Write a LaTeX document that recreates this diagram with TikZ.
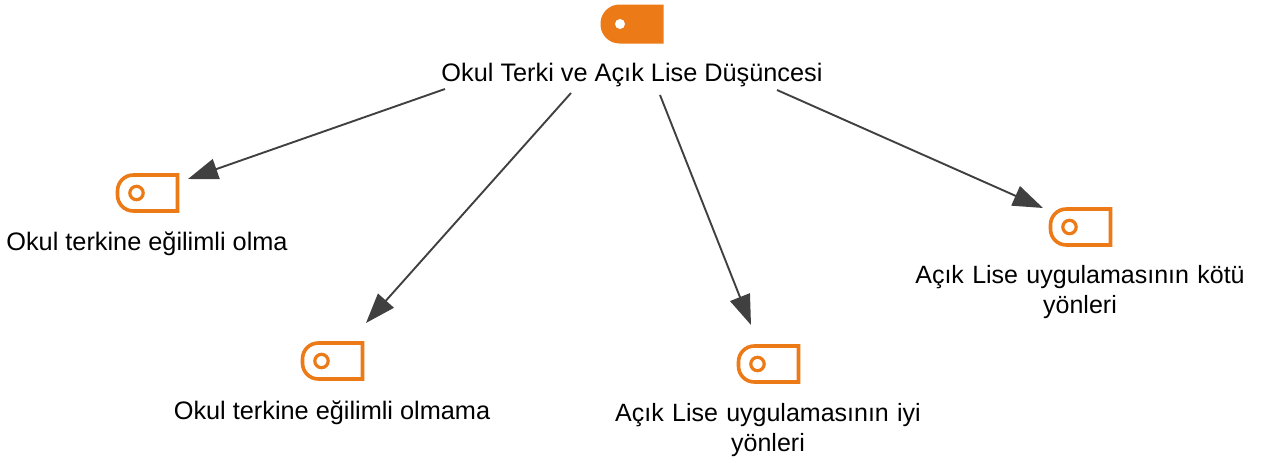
\documentclass[tikz,border=0pt]{standalone}
\usepackage{fontspec}
\setmainfont{Liberation Sans}
\usetikzlibrary{arrows.meta}
\definecolor{tagorange}{HTML}{EC7A16}
\definecolor{linkgray}{HTML}{404040}
\tikzset{
 x=1pt,y=-1pt,
 lbl/.style={font=\fontsize{25.3}{30}\selectfont,text=black,inner sep=0pt,align=center},
 lbltwo/.style={font=\fontsize{25}{30}\selectfont,text=black,inner sep=0pt,align=center,text width=340pt},
 link/.style={draw=linkgray,line width=1.9pt,-{Triangle[length=30pt,width=21pt]}},
 tagline/.style={draw=tagorange,line width=3.6pt,line join=miter},
}
\newcommand{\outlinetag}[2]{%
 \draw[tagline] (#1+60,#2) -- (#1+16,#2) .. controls (#1+7,#2) and (#1,#2+7) .. (#1,#2+16) -- (#1,#2+20)
   .. controls (#1,#2+29) and (#1+7,#2+36) .. (#1+16,#2+36) -- (#1+60,#2+36) -- cycle;
 \draw[draw=tagorange,line width=3.2pt] (#1+19,#2+18) circle (6.7);
}
\begin{document}
\begin{tikzpicture}
\useasboundingbox (0,0) rectangle (1267,463);
\fill[tagorange] (663.5,4.5) -- (619.5,4.5) .. controls (609,4.5) and (600.5,13) .. (600.5,23.5)
  -- (600.5,24.5) .. controls (600.5,35) and (609,43.5) .. (619.5,43.5) -- (663.5,43.5) -- cycle;
\fill[white] (620,24) circle (5);
\node[lbl] (root) at (632,75.5) {Okul Terki ve Açık Lise Düşüncesi};
\outlinetag{117.5}{175}
\node[lbl] (a) at (147,243.5) {Okul terkine eğilimli olma};
\outlinetag{302.5}{343}
\node[lbl] (b) at (332,412.5) {Okul terkine eğilimli olmama};
\outlinetag{738.5}{346}
\node[lbltwo] (c) at (768,430) {Açık Lise uygulamasının iyi\\yönleri};
\outlinetag{1050.5}{209}
\node[lbltwo] (d) at (1080,292) {Açık Lise uygulamasının kötü\\yönleri};
\coordinate (ra) at (445,89); \coordinate (ae) at (188,179);
\coordinate (rb) at (571,93); \coordinate (be) at (366,323);
\coordinate (rc) at (660,95); \coordinate (ce) at (751,325);
\coordinate (rd) at (777,90); \coordinate (de) at (1043,208);
\draw[link] (ra) -- (ae);
\draw[link] (rb) -- (be);
\draw[link] (rc) -- (ce);
\draw[link] (rd) -- (de);
\end{tikzpicture}
\end{document}
